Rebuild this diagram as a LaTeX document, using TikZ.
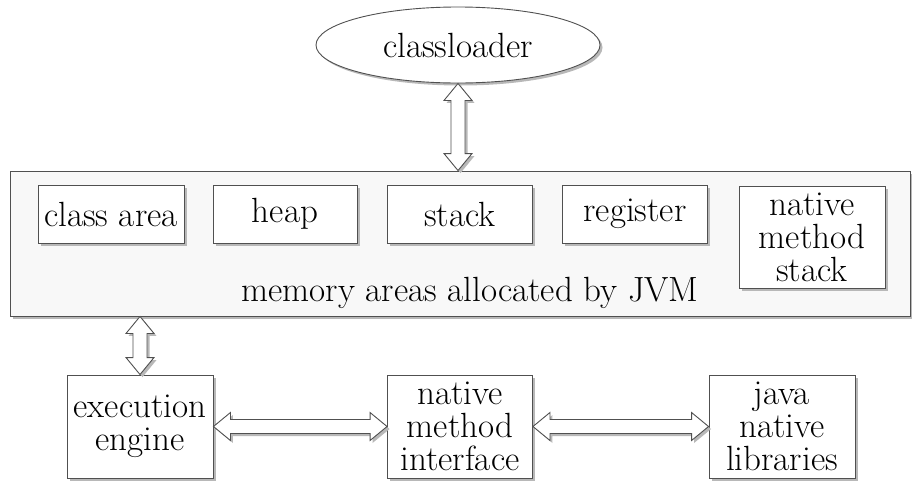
\documentclass[tikz,border=0pt]{standalone}
\usetikzlibrary{shadows,calc,shapes.geometric}
\definecolor{linec}{HTML}{505050}
\definecolor{panel}{HTML}{F8F8F8}
\begin{document}
\begin{tikzpicture}[x=1pt,y=-1pt,
  font=\fontsize{35}{33}\selectfont,
  shd/.style={drop shadow={shadow xshift=2.5pt,shadow yshift=-2.5pt,fill=black!28,opacity=1}},
  box/.style={draw=linec,line width=0.9pt,fill=white,shd,inner sep=0pt,align=center},
  vdbl/.style={draw=linec,line width=0.9pt,fill=white,shd,
    to path={let \p1=(\tikztostart),\p2=(\tikztotarget) in
      (\x1,\y1) -- (\x1+14pt,\y1-17pt) -- (\x1+7pt,\y1-17pt) -- (\x1+7pt,\y2+17pt)
      -- (\x1+14pt,\y2+17pt) -- (\x1,\y2) -- (\x1-14pt,\y2+17pt) -- (\x1-7pt,\y2+17pt)
      -- (\x1-7pt,\y1-17pt) -- (\x1-14pt,\y1-17pt) -- cycle}},
  hdbl/.style={draw=linec,line width=0.9pt,fill=white,shd,
    to path={let \p1=(\tikztostart),\p2=(\tikztotarget) in
      (\x1,\y1) -- (\x1+17pt,\y1+14pt) -- (\x1+17pt,\y1+7pt) -- (\x2-17pt,\y1+7pt)
      -- (\x2-17pt,\y1+14pt) -- (\x2,\y1) -- (\x2-17pt,\y1-14pt) -- (\x2-17pt,\y1-7pt)
      -- (\x1+17pt,\y1-7pt) -- (\x1+17pt,\y1-14pt) -- cycle}}]
\useasboundingbox (0,0) rectangle (912,493);

\node[box,ellipse,fill=white,minimum width=284pt,minimum height=76pt] (cl) at (458,45) {classloader};

\node[box,fill=panel,minimum width=900pt,minimum height=145pt] (mem) at (460,243.5) {};
\node[inner sep=0pt] (memlabel) at (470,293) {memory areas allocated by JVM};

\node[box,minimum width=146pt,minimum height=58pt] (ca) at (111,214) {class area};
\node[box,minimum width=144pt,minimum height=58pt] (hp) at (285,214) {heap};
\node[box,minimum width=145pt,minimum height=58pt] (st) at (460,214) {stack};
\node[box,minimum width=145pt,minimum height=58pt] (rg) at (635,214) {register};
\node[box,minimum width=146pt,minimum height=102pt] (nms) at (812,237) {native\\method\\stack};

\node[box,minimum width=146pt,minimum height=103pt] (ee) at (140,426.5) {execution\\engine};
\node[box,minimum width=145pt,minimum height=103pt] (nmi) at (460,426.5) {native\\method\\interface};
\node[box,minimum width=146pt,minimum height=103pt] (jnl) at (782,426.5) {java\\native\\libraries};

\path[vdbl] (cl.south) to (cl.south |- mem.north);
\path[vdbl] (ee.north |- mem.south) to (ee.north);
\path[hdbl] (ee.east) to (nmi.west);
\path[hdbl] (nmi.east) to (jnl.west);
\end{tikzpicture}
\end{document}
